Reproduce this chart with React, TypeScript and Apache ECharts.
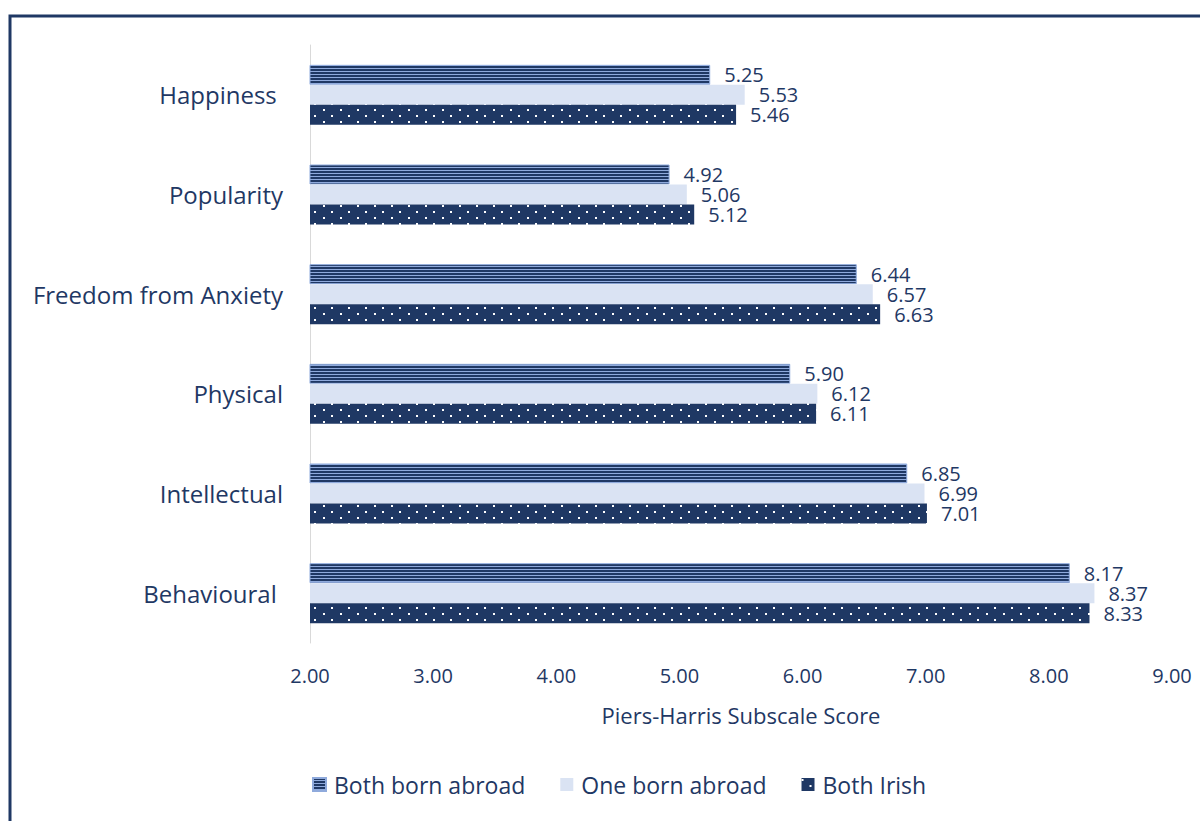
import React, { useEffect, useRef } from "react";
import * as echarts from "echarts";

const categories = ["Behavioural ", "Intellectual", "Physical", "Freedom from Anxiety", "Popularity", "Happiness "];
const bothBornAbroad = [8.17, 6.85, 5.9, 6.44, 4.92, 5.25];
const oneBornAbroad = [8.37, 6.99, 6.12, 6.57, 5.06, 5.53];
const bothIrish = [8.33, 7.01, 6.11, 6.63, 5.12, 5.46];
const legendOrder = ["Both born abroad", "One born abroad", "Both Irish"];

const NAVY = "#1f3864";
const LIGHT = "#dae3f3";
const FONT = "'Open Sans', sans-serif";

function stripePattern(): string {
  const c = document.createElement("canvas");
  c.width = 4;
  c.height = 3;
  const ctx = c.getContext("2d")!;
  ctx.fillStyle = "#8faadc";
  ctx.fillRect(0, 0, 4, 3);
  ctx.fillStyle = NAVY;
  ctx.fillRect(0, 0, 4, 2);
  return c.toDataURL();
}

function dotPattern(): string {
  const c = document.createElement("canvas");
  c.width = 17;
  c.height = 12;
  const ctx = c.getContext("2d")!;
  ctx.fillStyle = NAVY;
  ctx.fillRect(0, 0, 17, 12);
  ctx.fillStyle = "#ffffff";
  ctx.fillRect(0, 1, 2, 2);
  ctx.fillRect(8, 7, 2, 2);
  return c.toDataURL();
}

export default function App() {
  const ref = useRef<HTMLDivElement>(null);
  useEffect(() => {
    if (!ref.current) return;
    const chart = echarts.init(ref.current, null, { renderer: "svg" });
    const label = {
      show: true,
      position: "right" as const,
      distance: 14,
      color: NAVY,
      fontSize: 20,
      lineHeight: 19,
      fontFamily: FONT,
      formatter: (p: any) => Number(p.value).toFixed(2),
    };
    chart.setOption({
      animation: false,
      backgroundColor: "#ffffff",
      textStyle: { fontFamily: FONT, color: NAVY },
      graphic: [
        {
          type: "rect",
          shape: { x: 10, y: 16, width: 1300, height: 900 },
          style: { fill: "none", stroke: NAVY, lineWidth: 3 },
          silent: true,
        },
      ],
      grid: { left: 310, top: 45, right: 28, bottom: 178, containLabel: false },
      xAxis: {
        type: "value",
        min: 2,
        max: 9,
        interval: 1,
        axisLine: { show: false },
        axisTick: { show: false },
        splitLine: { show: false },
        axisLabel: {
          color: NAVY,
          fontSize: 20,
          fontFamily: FONT,
          margin: 22,
          formatter: (v: number) => v.toFixed(2),
        },
        name: "Piers-Harris Subscale Score",
        nameLocation: "middle",
        nameGap: 61,
        nameTextStyle: { color: NAVY, fontSize: 22, fontFamily: FONT },
      },
      yAxis: {
        type: "category",
        data: categories,
        axisLine: { show: true, lineStyle: { color: "#d9d9d9", width: 1 } },
        axisTick: { show: false },
        axisLabel: { color: NAVY, fontSize: 24, fontFamily: FONT, margin: 27 },
      },
      legend: {
        data: legendOrder,
        bottom: 20,
        left: 307,
        icon: "rect",
        itemWidth: 13,
        itemHeight: 13,
        itemGap: 35,
        textStyle: { color: NAVY, fontSize: 23, fontFamily: FONT, padding: [0, 0, 0, 3] },
      },
      series: [
        {
          name: "Both born abroad",
          type: "bar",
          data: bothBornAbroad,
          barWidth: 20,
          barGap: "0%",
          itemStyle: {
            color: { image: stripePattern(), repeat: "repeat" },
            borderColor: "#8faadc",
            borderWidth: 1,
          },
          label,
        },
        {
          name: "One born abroad",
          type: "bar",
          data: oneBornAbroad,
          barWidth: 20,
          barGap: "0%",
          itemStyle: { color: LIGHT },
          label,
        },
        {
          name: "Both Irish",
          type: "bar",
          data: bothIrish,
          barWidth: 20,
          barGap: "0%",
          itemStyle: { color: { image: dotPattern(), repeat: "repeat" } },
          label,
        },
      ],
    });
    return () => chart.dispose();
  }, []);
  return (
    <div
      ref={ref}
      style={{ position: "absolute", left: 0, top: 0, width: 1200, height: 821 }}
    />
  );
}
